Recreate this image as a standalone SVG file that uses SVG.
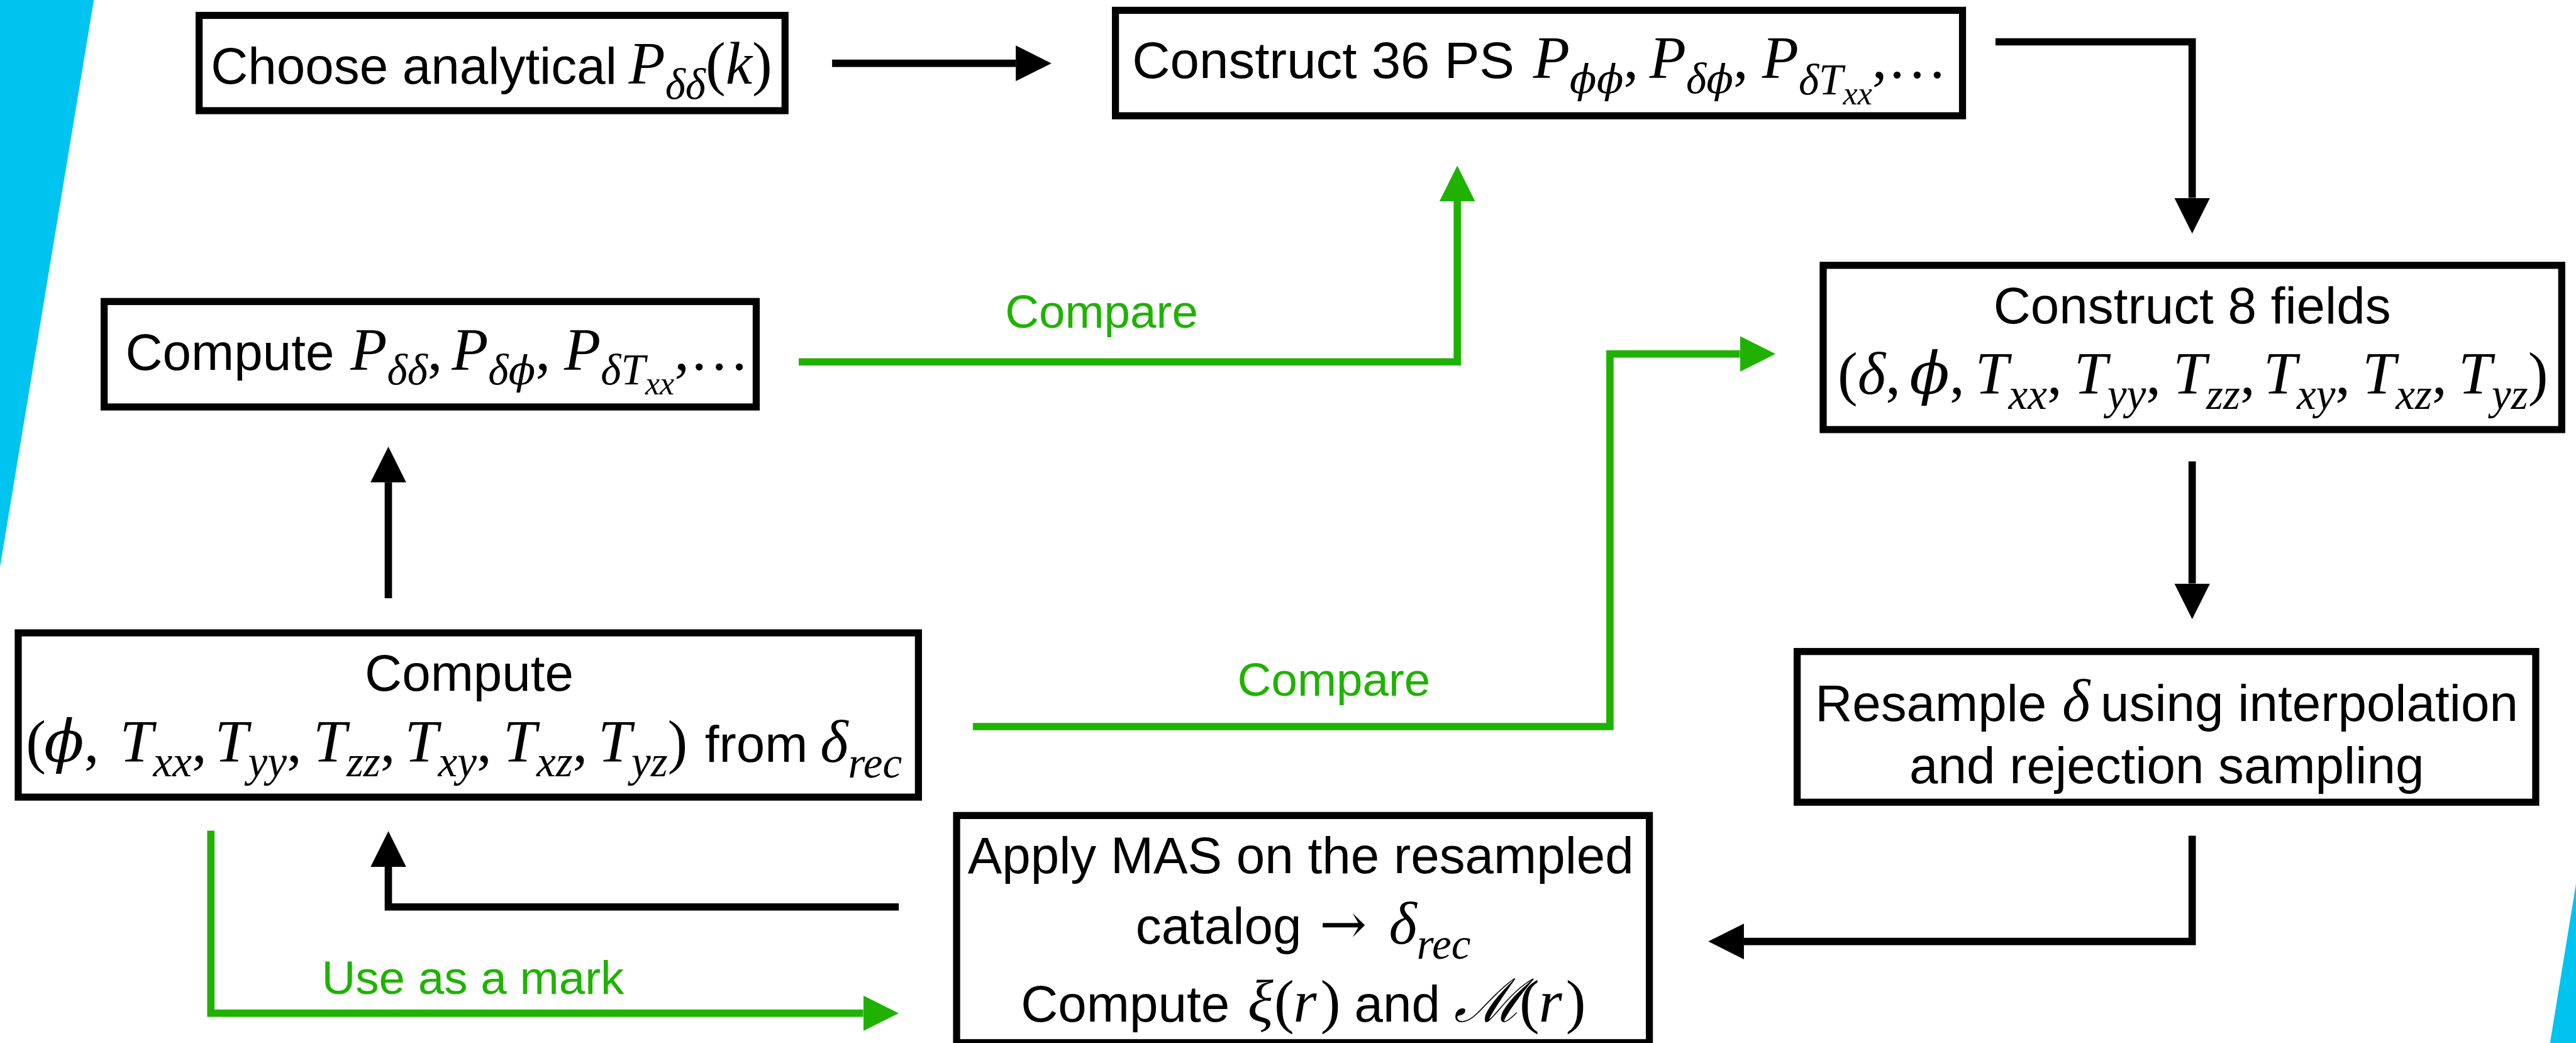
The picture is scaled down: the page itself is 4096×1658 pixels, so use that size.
<svg xmlns="http://www.w3.org/2000/svg" width="4096" height="1658" viewBox="0 0 4096 1658">
  <style>
    .box { fill: #ffffff; stroke: #000000; stroke-width: 12.5; }
    .t { font-family: "Liberation Sans", Arial, Helvetica, sans-serif; font-size: 91px; font-style: normal; fill: #000000; }
    .u { font-family: "Liberation Serif", "Times New Roman", "DejaVu Serif", serif; font-size: 106px; font-style: normal; fill: #000000; }
    .m { font-family: "Liberation Serif", "Times New Roman", "DejaVu Serif", serif; font-size: 106px; font-style: italic; fill: #000000; }
    .s { font-size: 77px; }
    .ss { font-size: 58px; }
    .ph { font-family: "DejaVu Serif", serif; font-style: italic; font-size: 104px; }
    .phs { font-family: "DejaVu Serif", serif; font-style: italic; font-size: 70px; }
    .ar { font-family: "DejaVu Serif", "Liberation Serif", serif; font-size: 100px; font-style: normal; }
    .g { font-family: "Liberation Sans", Arial, Helvetica, sans-serif; font-size: 83px; fill: #1fb200; }
    .k { fill: none; stroke: #000000; stroke-width: 13; stroke-linejoin: miter; }
    .gr { fill: none; stroke: #1fb200; stroke-width: 13; stroke-linejoin: miter; }
  </style>
  <defs>
    <marker id="headK" markerUnits="userSpaceOnUse" viewBox="0 0 63 63" markerWidth="63" markerHeight="63" refX="0" refY="31.5" orient="auto">
      <path d="M0,0 L63,31.5 L0,63 Z" fill="#000000"/>
    </marker>
    <marker id="headG" markerUnits="userSpaceOnUse" viewBox="0 0 63 63" markerWidth="63" markerHeight="63" refX="0" refY="31.5" orient="auto">
      <path d="M0,0 L63,31.5 L0,63 Z" fill="#1fb200"/>
    </marker>
  </defs>
  <rect x="0" y="0" width="4096" height="1658" fill="#ffffff"/>
  <g transform="scale(0.898837)">
    <!-- slanted colour bands at the edges -->
    <g id="decor">
      <polygon points="0,0 166,0 0,1003" fill="#00c4f0"/>
      <polygon points="4557,1563 4557,1845 4511,1845" fill="#00c4f0"/>
    </g>

    <g id="connectors">
      <!-- black flow -->
      <path class="k" d="M1472,112 H1797" marker-end="url(#headK)"/>
      <path class="k" d="M3530,74 H3878 V350" marker-end="url(#headK)"/>
      <path class="k" d="M3878,816 V1032" marker-end="url(#headK)"/>
      <path class="k" d="M3878,1478 V1665 H3085" marker-end="url(#headK)"/>
      <path class="k" d="M1590,1604 H687 V1533" marker-end="url(#headK)"/>
      <path class="k" d="M687,1058 V853" marker-end="url(#headK)"/>
      <!-- green comparison / mark flow -->
      <path class="gr" d="M1413,640 H2578 V356" marker-end="url(#headG)"/>
      <path class="gr" d="M1721,1285 H2848 V626 H3078" marker-end="url(#headG)"/>
      <path class="gr" d="M373,1469 V1792 H1527" marker-end="url(#headG)"/>
      <text class="g" x="1778" y="580">Compare</text>
      <text class="g" x="2189" y="1230">Compare</text>
      <text class="g" x="569" y="1758">Use as a mark</text>
    </g>

    <g id="node-analytical">
      <rect class="box" x="352.25" y="27.25" width="1036.5" height="168.5"/>
      <text class="t" x="373" y="148">Choose analytical</text>
      <text class="m" y="148"><tspan x="1112">P</tspan><tspan class="s" dy="27">δδ</tspan><tspan class="u" dy="-27">(</tspan><tspan>k</tspan><tspan class="u">)</tspan></text>
    </g>

    <g id="node-construct-ps">
      <rect class="box" x="1973.25" y="18.25" width="1498.5" height="186.5"/>
      <text class="t" x="2003" y="138" textLength="676" lengthAdjust="spacingAndGlyphs">Construct 36 PS</text>
      <text class="m" y="138"><tspan x="2712">P</tspan><tspan class="phs" dy="27">ϕϕ</tspan><tspan class="u" dy="-27">,</tspan><tspan x="2918">P</tspan><tspan class="s" dy="27">δ</tspan><tspan class="phs">ϕ</tspan><tspan class="u" dy="-27">,</tspan><tspan x="3117">P</tspan><tspan class="s" dy="29">δT</tspan><tspan class="ss" dy="18">xx</tspan><tspan class="u" dy="-47">,…</tspan></text>
    </g>

    <g id="node-construct-fields">
      <rect class="box" x="3225.25" y="469.25" width="1306.5" height="290.5"/>
      <text class="t" x="3878" y="572" text-anchor="middle">Construct 8 fields</text>
      <text class="m" y="697"><tspan class="u" x="3251">(</tspan><tspan>δ</tspan><tspan class="u">,</tspan><tspan class="ph" x="3378">ϕ</tspan><tspan class="u">,</tspan><tspan x="3494">T</tspan><tspan class="s" dy="26">xx</tspan><tspan class="u" dy="-26">,</tspan><tspan x="3669">T</tspan><tspan class="s" dy="26">yy</tspan><tspan class="u" dy="-26">,</tspan><tspan x="3844">T</tspan><tspan class="s" dy="26">zz</tspan><tspan class="u" dy="-26">,</tspan><tspan x="4004">T</tspan><tspan class="s" dy="26">xy</tspan><tspan class="u" dy="-26">,</tspan><tspan x="4179">T</tspan><tspan class="s" dy="26">xz</tspan><tspan class="u" dy="-26">,</tspan><tspan x="4349">T</tspan><tspan class="s" dy="26">yz</tspan><tspan class="u" dy="-26">)</tspan></text>
    </g>

    <g id="node-compute-ps">
      <rect class="box" x="184.25" y="533.25" width="1153.5" height="186.5"/>
      <text class="t" x="222" y="654">Compute</text>
      <text class="m" y="654"><tspan x="620">P</tspan><tspan class="s" dy="26">δδ</tspan><tspan class="u" dy="-26">,</tspan><tspan x="799">P</tspan><tspan class="s" dy="26">δ</tspan><tspan class="phs">ϕ</tspan><tspan class="u" dy="-26">,</tspan><tspan x="998">P</tspan><tspan class="s" dy="26">δT</tspan><tspan class="ss" dy="18">xx</tspan><tspan class="u" dy="-44">,…</tspan></text>
    </g>

    <g id="node-resample">
      <rect class="box" x="3179.25" y="1152.25" width="1306.5" height="266.5"/>
      <text class="t" x="3211" y="1275">Resample</text>
      <text class="m" x="3648" y="1275">δ</text>
      <text class="t" x="3716" y="1275">using interpolation</text>
      <text class="t" x="3833" y="1385" text-anchor="middle">and rejection sampling</text>
    </g>

    <g id="node-compute-fields">
      <rect class="box" x="32.25" y="1119.25" width="1592.5" height="290.5"/>
      <text class="t" x="830" y="1222" text-anchor="middle">Compute</text>
      <text class="m" y="1347"><tspan class="u" x="46">(</tspan><tspan class="ph" x="78">ϕ</tspan><tspan class="u">,</tspan><tspan x="212">T</tspan><tspan class="s" dy="26">xx</tspan><tspan class="u" dy="-26">,</tspan><tspan x="380">T</tspan><tspan class="s" dy="26">yy</tspan><tspan class="u" dy="-26">,</tspan><tspan x="554">T</tspan><tspan class="s" dy="26">zz</tspan><tspan class="u" dy="-26">,</tspan><tspan x="716">T</tspan><tspan class="s" dy="26">xy</tspan><tspan class="u" dy="-26">,</tspan><tspan x="890">T</tspan><tspan class="s" dy="26">xz</tspan><tspan class="u" dy="-26">,</tspan><tspan x="1058">T</tspan><tspan class="s" dy="26">yz</tspan><tspan class="u" dy="-26">)</tspan></text>
      <text class="t" x="1247" y="1347">from</text>
      <text class="m" y="1347"><tspan x="1451">δ</tspan><tspan class="s" dy="28">rec</tspan></text>
    </g>

    <g id="node-mas">
      <rect class="box" x="1692.25" y="1442.25" width="1225.5" height="401.75"/>
      <text class="t" x="2301" y="1544" text-anchor="middle">Apply MAS on the resampled</text>
      <text class="t" x="2009" y="1669">catalog</text>
      <text class="ar" x="2334" y="1669">→</text>
      <text class="m" y="1669"><tspan x="2457">δ</tspan><tspan class="s" dy="26">rec</tspan></text>
      <text class="t" x="1806" y="1807">Compute</text>
      <text class="m" y="1807"><tspan x="2207">ξ</tspan><tspan class="u" x="2254">(</tspan><tspan x="2288">r</tspan><tspan class="u" x="2336">)</tspan></text>
      <text class="t" x="2396" y="1807">and</text>
      <text class="m" y="1807"><tspan x="2572">ℳ</tspan><tspan class="u" x="2688">(</tspan><tspan x="2722">r</tspan><tspan class="u" x="2770">)</tspan></text>
    </g>
  </g>
</svg>
